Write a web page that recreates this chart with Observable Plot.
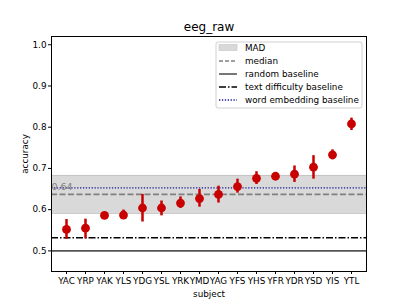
<!DOCTYPE html>
<html>
<head>
<meta charset="utf-8">
<script src="https://cdn.jsdelivr.net/npm/d3@7"></script>
<script src="https://cdn.jsdelivr.net/npm/@observablehq/plot@0.6"></script>
<style>
  html, body { margin: 0; padding: 0; background: #fff; }
  #chart { width: 407px; height: 305px; }
</style>
</head>
<body>
<div id="chart"></div>
<script>
const title = "eeg_raw";
const subjects = ["YAC","YRP","YAK","YLS","YDG","YSL","YRK","YMD","YAG","YFS","YHS","YFR","YDR","YSD","YIS","YTL"];
const means = [0.552,0.555,0.586,0.587,0.604,0.604,0.616,0.627,0.637,0.656,0.676,0.681,0.686,0.703,0.733,0.808];
const lows  = [0.528,0.529,0.582,0.577,0.570,0.585,0.603,0.606,0.616,0.640,0.661,0.673,0.666,0.674,0.721,0.792];
const highs = [0.576,0.577,0.591,0.599,0.637,0.621,0.631,0.649,0.657,0.674,0.692,0.690,0.706,0.731,0.745,0.822];
const yTicks = [0.5,0.6,0.7,0.8,0.9,1.0];
const madBand = [0.591, 0.683];
const median = 0.637;
const medianLabel = "0.64";
const randomBaseline = 0.5;
const textDifficultyBaseline = 0.532;
const wordEmbeddingBaseline = 0.653;
const legendLabels = ["MAD","median","random baseline","text difficulty baseline","word embedding baseline"];

const rows = subjects.map((s, i) => ({subject: s, mean: means[i], lo: lows[i], hi: highs[i]}));
const red = "#c80000";
const fs = "8.8px";

const chart = Plot.plot({
  width: 407, height: 305,
  marginLeft: 51, marginRight: 41, marginTop: 36, marginBottom: 34,
  style: {fontFamily: "DejaVu Sans, sans-serif", fontSize: fs, color: "#000", background: "#fff"},
  x: {type: "point", domain: subjects, padding: 0.5},
  y: {domain: [0.45, 1.02]},
  marks: [
    Plot.rect([{lo: madBand[0], hi: madBand[1]}], {y1: "lo", y2: "hi", fill: "#d9d9d9"}),
    Plot.ruleY(madBand, {stroke: "#c4c4c4", strokeWidth: 1}),
    Plot.ruleY([median], {stroke: "#808080", strokeWidth: 1.6, strokeDasharray: "6,2.5"}),
    Plot.ruleY([randomBaseline], {stroke: "#555", strokeWidth: 1.6}),
    Plot.ruleY([textDifficultyBaseline], {stroke: "#000", strokeWidth: 1.6, strokeDasharray: "7,2,1.5,2"}),
    Plot.ruleY([wordEmbeddingBaseline], {stroke: "#1a1a9a", strokeWidth: 1.3, strokeDasharray: "1.3,1.6"}),
    Plot.text([{v: median, t: medianLabel}], {y: "v", text: "t", frameAnchor: "left", textAnchor: "start", dx: 0, dy: -7, fill: "#808080", fontSize: 9.5}),
    Plot.ruleX(rows, {x: "subject", y1: "lo", y2: "hi", stroke: red, strokeWidth: 2.5}),
    Plot.dot(rows, {x: "subject", y: "mean", r: 4.4, fill: red, stroke: "none"}),
    Plot.axisY(yTicks, {tickSize: 3, tickPadding: 2, tickFormat: d3.format(".1f"), label: "accuracy", labelAnchor: "center", labelArrow: "none", labelOffset: 30, fontSize: 8.8}),
    Plot.axisX({tickSize: 3, tickPadding: 3, label: "subject", labelAnchor: "center", labelArrow: "none", labelOffset: 25, fontSize: 8.8}),
    Plot.frame({stroke: "#000", strokeWidth: 1}),
    Plot.text([title], {text: d => d, frameAnchor: "top", lineAnchor: "middle", dy: -9, fontSize: 12, fill: "#000"})
  ]
});
document.getElementById("chart").appendChild(chart);

// legend
const svg = d3.select(chart);
const g = svg.append("g").attr("transform", "translate(216,42)")
  .attr("font-family", "DejaVu Sans, sans-serif").attr("font-size", "8.8px").attr("text-anchor", "start");
g.append("rect").attr("x", 0).attr("y", 0).attr("width", 146).attr("height", 66)
  .attr("rx", 2).attr("fill", "#fff").attr("fill-opacity", 0.85).attr("stroke", "#d0d0d0");
const ys = [5.5, 19, 32, 45, 58];
const handles = [
  sel => sel.append("rect").attr("x", 3).attr("y", -3).attr("width", 18).attr("height", 6).attr("fill", "#d9d9d9").attr("stroke", "#c4c4c4").attr("stroke-width", 0.6),
  sel => sel.append("line").attr("x1", 3).attr("x2", 21).attr("stroke", "#808080").attr("stroke-width", 1.4).attr("stroke-dasharray", "4,2"),
  sel => sel.append("line").attr("x1", 3).attr("x2", 21).attr("stroke", "#555").attr("stroke-width", 1.6),
  sel => sel.append("line").attr("x1", 3).attr("x2", 21).attr("stroke", "#000").attr("stroke-width", 1.6).attr("stroke-dasharray", "7,2,1.5,2"),
  sel => sel.append("line").attr("x1", 3).attr("x2", 21).attr("stroke", "#1a1a9a").attr("stroke-width", 1.3).attr("stroke-dasharray", "1.3,1.6")
];
legendLabels.forEach((lab, i) => {
  const row = g.append("g").attr("transform", `translate(0,${ys[i]})`);
  handles[i](row);
  row.append("text").attr("x", 29).attr("y", 0).attr("dy", "0.35em").attr("text-anchor", "start").attr("fill", "#000").text(lab);
});
</script>
</body>
</html>
